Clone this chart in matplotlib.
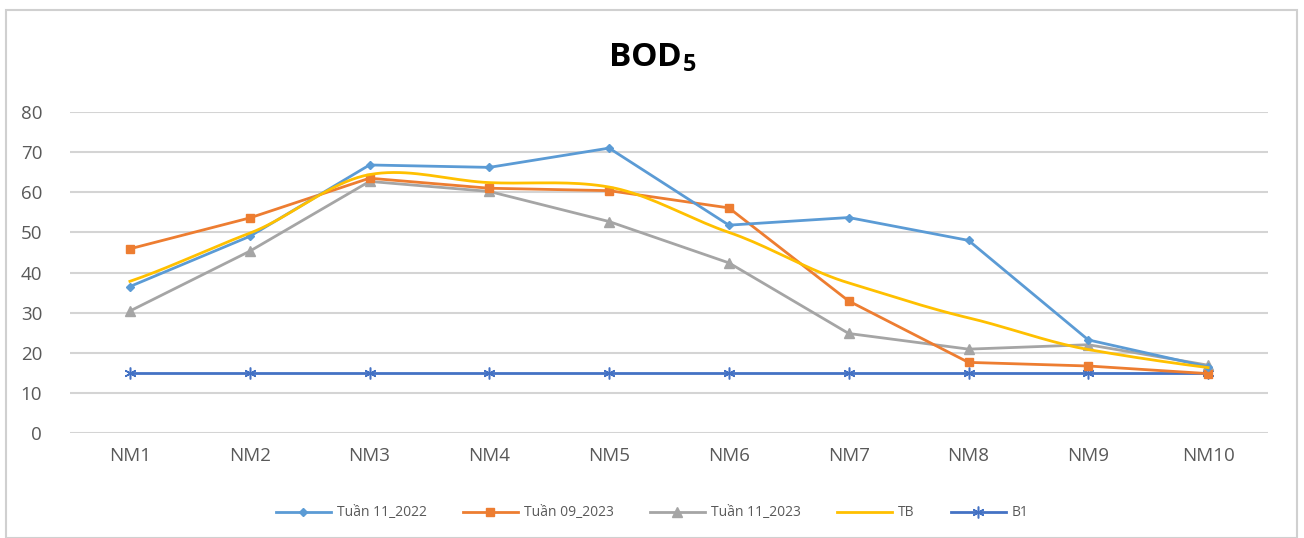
import numpy as np
import matplotlib
matplotlib.use('Agg')
import matplotlib.pyplot as plt
from matplotlib.patches import Rectangle

plt.rcParams['font.family'] = ['Open Sans', 'DejaVu Sans']

sites = ['NM1', 'NM2', 'NM3', 'NM4', 'NM5', 'NM6', 'NM7', 'NM8', 'NM9', 'NM10']
tuan11_2022 = [36.5, 49.0, 66.8, 66.2, 71.0, 51.8, 53.7, 48.0, 23.2, 16.5]
tuan09_2023 = [45.9, 53.6, 63.5, 61.0, 60.4, 56.1, 32.9, 17.6, 16.7, 14.8]
tuan11_2023 = [30.4, 45.3, 62.7, 60.2, 52.7, 42.4, 24.8, 20.9, 22.0, 16.9]
tb = [37.8, 49.8, 64.4, 62.4, 61.3, 50.0, 37.4, 28.7, 20.8, 16.3]
b1 = [15, 15, 15, 15, 15, 15, 15, 15, 15, 15]


def smooth(y, n=20, tension=0.85):
    # cubic hermite curve through the points (catmull-rom style tangents)
    y = np.asarray(y, dtype=float)
    x = np.arange(len(y), dtype=float)
    m = np.zeros_like(y)
    m[1:-1] = (y[2:] - y[:-2]) / 2
    m[0] = y[1] - y[0]
    m[-1] = y[-1] - y[-2]
    m *= tension
    t = np.linspace(0, 1, n, endpoint=False)
    h00 = 2 * t ** 3 - 3 * t ** 2 + 1
    h10 = t ** 3 - 2 * t ** 2 + t
    h01 = -2 * t ** 3 + 3 * t ** 2
    h11 = t ** 3 - t ** 2
    xs, ys = [], []
    for i in range(len(y) - 1):
        xs.extend(x[i] + t)
        ys.extend(h00 * y[i] + h10 * m[i] + h01 * y[i + 1] + h11 * m[i + 1])
    xs.append(x[-1])
    ys.append(y[-1])
    return np.array(xs), np.array(ys)


fig = plt.figure(figsize=(13.04, 5.38), dpi=100)
fig.patches.append(Rectangle((6 / 1304, 0.0), 1291 / 1304, 1 - 10 / 538, transform=fig.transFigure,
                             fill=False, edgecolor='#D0D0D0', linewidth=1.5))
ax = fig.add_axes([70 / 1304, 1 - 433 / 538, 1198 / 1304, 321 / 538])

x = np.arange(len(sites))
ax.plot(x, tuan11_2022, color='#5B9BD5', lw=2, marker='D', ms=4.5, label='Tuần 11_2022', zorder=5)
ax.plot(x, tuan09_2023, color='#ED7D31', lw=2, marker='s', ms=6, label='Tuần 09_2023', zorder=4)
ax.plot(x, tuan11_2023, color='#A5A5A5', lw=2, marker='^', ms=6.5, label='Tuần 11_2023', zorder=3)
sx, sy = smooth(tb)
ax.plot(sx, sy, color='#FFC000', lw=2, label='TB', zorder=6)
ax.plot(x, b1, color='#4472C4', lw=2, marker=(6, 2, 0), ms=8.5, mew=1.1, label='B1', zorder=2)

ax.set_xlim(-0.5, 9.5)
ax.set_ylim(0, 80)
ax.set_yticks(range(0, 81, 10))
ax.set_xticks(x)
ax.set_xticklabels(sites)
ax.grid(axis='y', color='#D4D4D4', lw=1.5)
ax.set_axisbelow(True)
for s in ax.spines.values():
    s.set_visible(False)
ax.tick_params(length=0, labelsize=13.5, colors='#595959', pad=10)
ax.tick_params(axis='y', pad=20)

fig.text(0.5, 1 - 58 / 538, r'BOD$_\mathregular{5}$', ha='center', va='center',
         fontsize=24, fontweight='bold', color='black')

fig.legend(loc='center', bbox_to_anchor=(0.5, 1 - 513 / 538), ncol=5, frameon=False,
           fontsize=10, labelcolor='#595959', handlelength=4, handletextpad=0.4,
           columnspacing=2.6)

fig.savefig('out.png', dpi=100, facecolor='white')
